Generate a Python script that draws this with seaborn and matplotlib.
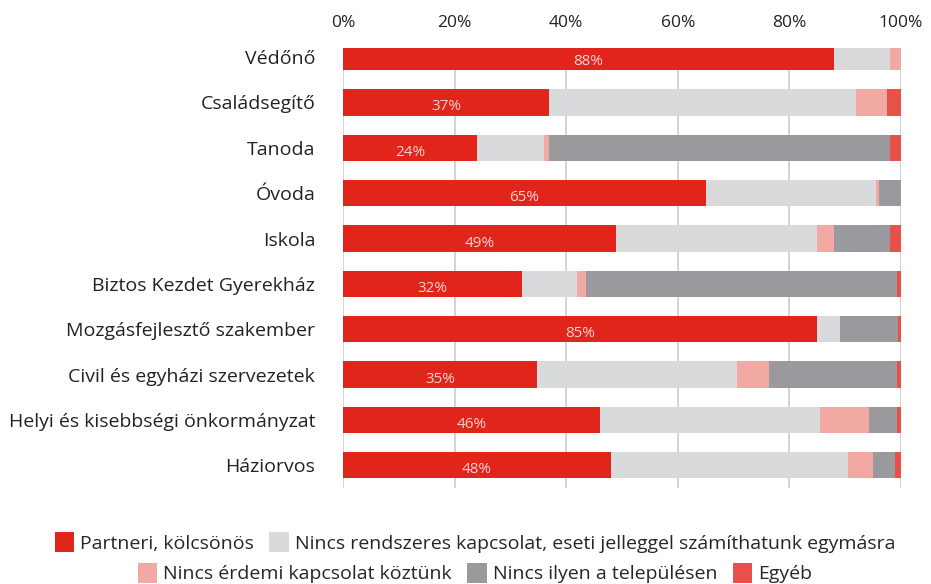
import numpy as np
import pandas as pd
import matplotlib
matplotlib.use('Agg')
import matplotlib.pyplot as plt
import seaborn as sns
from matplotlib.patches import Patch

# Data (percent of respondents)
categories = ['Védőnő', 'Családsegítő', 'Tanoda', 'Óvoda', 'Iskola',
              'Biztos Kezdet Gyerekház', 'Mozgásfejlesztő szakember',
              'Civil és egyházi szervezetek', 'Helyi és kisebbségi önkormányzat',
              'Háziorvos']
partneri = [88, 37, 24, 65, 49, 32, 85, 35, 46, 48]
eseti = [10, 55, 12, 30.5, 36, 10, 4, 36, 39.5, 42.5]
nincs_erdemi = [2, 5.5, 1, 0.5, 3, 1.5, 0, 5.8, 8.7, 4.5]
nincs_ilyen = [0, 0, 61, 4, 10, 55.8, 10.4, 23.1, 5, 4]
egyeb = [0, 2.5, 2, 0, 2, 0.7, 0.6, 0.7, 0.8, 1]

series_names = ['Partneri, kölcsönös',
                'Nincs rendszeres kapcsolat, eseti jelleggel számíthatunk egymásra',
                'Nincs érdemi kapcsolat köztünk',
                'Nincs ilyen a településen',
                'Egyéb']
colors = ['#E1251B', '#D9DADC', '#F2A9A3', '#9A9A9E', '#E8504A']

df = pd.DataFrame({'cat': categories})
series = [partneri, eseti, nincs_erdemi, nincs_ilyen, egyeb]
cum = np.cumsum(np.array(series, dtype=float), axis=0)
cum = cum / cum[-1] * 100  # normalise to 100%

sns.set_theme(style='white')
plt.rcParams['font.family'] = ['Open Sans', 'DejaVu Sans']

fig = plt.figure(figsize=(9.31, 5.84), dpi=100)
ax = fig.add_axes([0.3684, 0.1644, 0.5994, 0.7534])

# gridlines first
for xv in [0, 20, 40, 60, 80, 100]:
    ax.axvline(xv, color='#C8C8C8', lw=1.1, zorder=0)

# stacked bars: draw cumulative totals from last to first
for i in range(len(series) - 1, -1, -1):
    df['v'] = cum[i]
    sns.barplot(data=df, x='v', y='cat', color=colors[i], saturation=1,
                width=0.58, orient='h', ax=ax, zorder=2, linewidth=0)

# value labels in red segment
for j, v in enumerate(partneri):
    ax.text(cum[0][j] / 2, j + 0.1, f'{v}%', ha='center', va='center',
            color='#F6D2CE', fontsize=11, zorder=3)

ax.set_xlim(0, 100)
ax.set_ylim(9.5, -0.2)
ax.set_xticks([0, 20, 40, 60, 80, 100])
ax.set_xticklabels([f'{t}%' for t in [0, 20, 40, 60, 80, 100]])
ax.xaxis.tick_top()
ax.tick_params(axis='x', length=0, pad=12, labelsize=12.5, colors='#222222')
ax.tick_params(axis='y', length=0, pad=20, labelsize=14, colors='#222222')
ax.set_xlabel('')
ax.set_ylabel('')
for s in ax.spines.values():
    s.set_visible(False)

handles = [Patch(facecolor=c, edgecolor='none') for c in colors]
fig.legend(handles[:2], series_names[:2], loc='center',
           bbox_to_anchor=(0.51, 0.071), ncol=2, frameon=False,
           fontsize=14, handlelength=1.0, handleheight=1.2,
           handletextpad=0.3, columnspacing=0.8)
fig.legend(handles[2:], series_names[2:], loc='center',
           bbox_to_anchor=(0.51, 0.019), ncol=3, frameon=False,
           fontsize=14, handlelength=1.0, handleheight=1.2,
           handletextpad=0.3, columnspacing=0.8)

fig.savefig('out.png', dpi=100)
